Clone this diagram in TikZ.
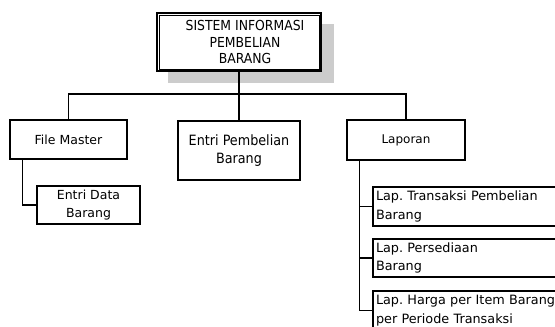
\documentclass[tikz,border=0pt]{standalone}
\usepackage{fontspec}
\setmainfont{DejaVu Sans}
\newfontfamily\condf{DejaVu Sans Condensed}
\frenchspacing
\begin{document}
\begin{tikzpicture}[x=1pt,y=-1pt,
  box/.style={draw=black,line width=1.5pt,fill=white,inner sep=0pt,align=center,font=\fontsize{12.5}{18}\selectfont},
  lapbox/.style={draw=black,line width=1.5pt,fill=white,inner xsep=3pt,inner ysep=0pt,minimum width=197pt,text width=191pt,align=left,font=\fontsize{12.8}{18.5}\selectfont},
  conn/.style={draw=black,line width=1.3pt}]
\useasboundingbox (0,0) rectangle (555,327);
% shadow of top box
\fill[gray!40] (168,24) rectangle (334,83);
% top box
\node[box,minimum width=164pt,minimum height=58pt,line width=2pt] (sis) at (239,42) {};
\draw[line width=0.8pt] ([shift={(3pt,3pt)}]sis.south west) rectangle ([shift={(-3pt,-3pt)}]sis.north east);
\node[align=center,font=\condf\fontsize{13.8}{16.5}\selectfont,inner sep=0pt] (sistxt) at (245,42) {SISTEM INFORMASI\\PEMBELIAN\\BARANG};
% level 1
\node[box,minimum width=117pt,minimum height=39pt] (fm) at (68.5,139.5) {File Master};
\node[box,minimum width=122pt,minimum height=59pt,font=\condf\fontsize{14.2}{18}\selectfont] (epb) at (239,150.5) {Entri Pembelian\\Barang};
\node[box,minimum width=118pt,minimum height=40pt,font=\fontsize{12}{14}\selectfont] (lap) at (406,140) {Laporan};
% level 2
\node[box,minimum width=103pt,minimum height=38pt] (edb) at (88.5,205) {Entri Data\\Barang};
\node[lapbox,minimum height=39pt] (l1) at (471.5,206.5) {Lap. Transaksi Pembelian\\Barang};
\node[lapbox,minimum height=38pt] (l2) at (471.5,258) {Lap. Persediaan\\Barang};
\node[lapbox,minimum height=39pt] (l3) at (471.5,310.5) {Lap. Harga per Item Barang\\per Periode Transaksi};
% connectors
\coordinate (bus) at (239,94);
\draw[conn] (sis.south) -- (epb.north);
\draw[conn] (fm.north) -- (fm.north |- bus) -- (lap.north |- bus) -- (lap.north);
\draw[conn] ([xshift=13pt]fm.south west) |- (edb.west);
\draw[conn] ([xshift=13pt]lap.south west) |- (l3.west);
\draw[conn] ([xshift=13pt]lap.south west |- l1.west) -- (l1.west);
\draw[conn] ([xshift=13pt]lap.south west |- l2.west) -- (l2.west);
\end{tikzpicture}
\end{document}
